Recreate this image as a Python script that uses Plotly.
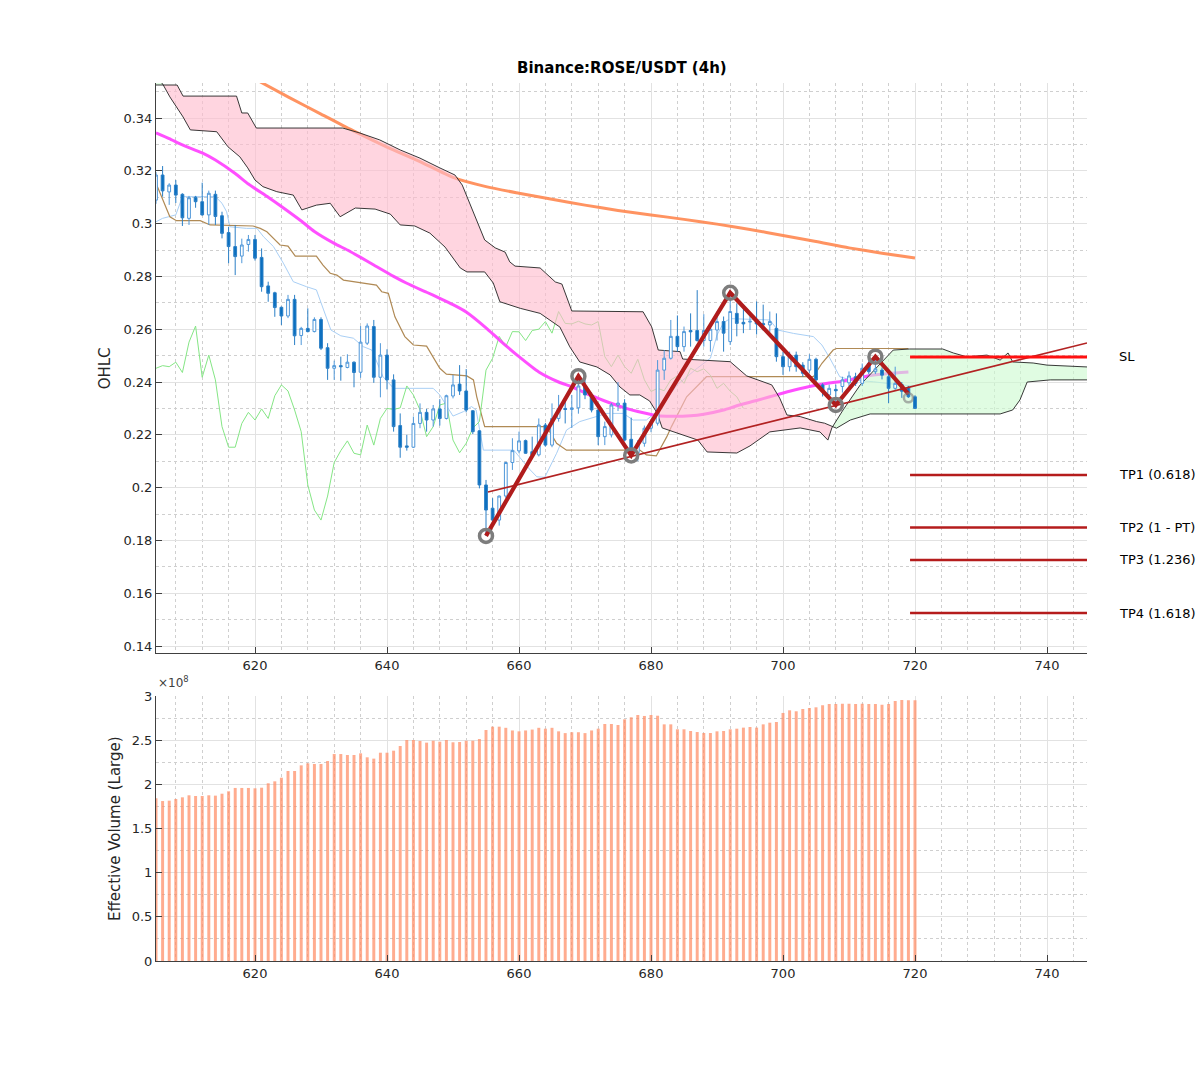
import numpy as np
import plotly.graph_objects as go

# ---------------- data ----------------
x = list(range(605, 721))

open_ = [0.3089,0.3184,0.3120,0.3146,0.3111,0.3020,0.3100,0.3083,0.3033,0.3111,
 0.3030,0.2966,0.2913,0.2877,0.2921,0.2940,0.2872,0.2764,0.2738,0.2683,
 0.2650,0.2713,0.2576,0.2603,0.2591,0.2637,0.2530,0.2452,0.2462,0.2455,
 0.2475,0.2437,0.2547,0.2610,0.2418,0.2502,0.2408,0.2235,0.2158,0.2153,
 0.2243,0.2285,0.2256,0.2298,0.2262,0.2347,0.2392,0.2366,0.2291,0.2215,
 0.2010,0.1922,0.1877,0.1968,0.2095,0.2139,0.2178,0.2136,0.2124,0.2237,
 0.2161,0.2262,0.2300,0.2296,0.2302,0.2385,0.2351,0.2294,0.2193,0.2200,
 0.2313,0.2320,0.2183,0.2132,0.2168,0.2225,0.2244,0.2445,0.2490,0.2573,
 0.2534,0.2595,0.2595,0.2557,0.2557,0.2597,0.2629,0.2553,0.2660,0.2626,
 0.2627,0.2633,0.2622,0.2616,0.2603,0.2496,0.2458,0.2502,0.2464,0.2445,
 0.2486,0.2389,0.2351,0.2372,0.2383,0.2397,0.2420,0.2395,0.2471,0.2439,
 0.2445,0.2420,0.2376,0.2390,0.2380,0.2344]

high_ = [0.3195,0.3218,0.3153,0.3165,0.3115,0.3105,0.3105,0.3155,0.3125,0.3125,
 0.3045,0.2988,0.2995,0.2943,0.2957,0.2957,0.2906,0.2780,0.2742,0.2686,
 0.2730,0.2730,0.2609,0.2679,0.2645,0.2645,0.2547,0.2481,0.2496,0.2505,
 0.2478,0.2612,0.2622,0.2635,0.2547,0.2524,0.2429,0.2281,0.2200,0.2269,
 0.2319,0.2298,0.2313,0.2335,0.2352,0.2427,0.2464,0.2449,0.2294,0.2218,
 0.2029,0.1960,0.1970,0.2098,0.2187,0.2212,0.2182,0.2193,0.2262,0.2245,
 0.2319,0.2351,0.2325,0.2351,0.2422,0.2415,0.2360,0.2305,0.2250,0.2320,
 0.2400,0.2335,0.2265,0.2180,0.2235,0.2260,0.2483,0.2521,0.2635,0.2652,
 0.2610,0.2660,0.2748,0.2657,0.2612,0.2667,0.2648,0.2738,0.2698,0.2692,
 0.2660,0.2705,0.2693,0.2667,0.2660,0.2515,0.2515,0.2515,0.2475,0.2505,
 0.2492,0.2395,0.2390,0.2390,0.2420,0.2440,0.2435,0.2470,0.2485,0.2496,
 0.2455,0.2450,0.2458,0.2400,0.2385,0.2350]

low_ = [0.3075,0.3102,0.3071,0.3078,0.2991,0.2995,0.3060,0.3030,0.2995,0.2995,
 0.2944,0.2850,0.2805,0.2850,0.2894,0.2860,0.2742,0.2704,0.2647,0.2616,
 0.2642,0.2540,0.2540,0.2588,0.2588,0.2521,0.2408,0.2408,0.2405,0.2452,
 0.2380,0.2416,0.2540,0.2397,0.2342,0.2372,0.2212,0.2113,0.2140,0.2150,
 0.2225,0.2212,0.2231,0.2235,0.2258,0.2338,0.2351,0.2285,0.2203,0.1997,
 0.1817,0.1865,0.1856,0.1960,0.2067,0.2130,0.2128,0.2120,0.2118,0.2155,
 0.2153,0.2250,0.2243,0.2226,0.2280,0.2335,0.2285,0.2161,0.2161,0.2190,
 0.2290,0.2175,0.2122,0.2100,0.2155,0.2210,0.2235,0.2408,0.2485,0.2515,
 0.2515,0.2534,0.2553,0.2534,0.2515,0.2557,0.2515,0.2540,0.2573,0.2585,
 0.2597,0.2580,0.2595,0.2590,0.2477,0.2427,0.2440,0.2439,0.2420,0.2435,
 0.2395,0.2345,0.2335,0.2313,0.2360,0.2385,0.2385,0.2385,0.2430,0.2430,
 0.2410,0.2320,0.2370,0.2340,0.2340,0.2300]

close_ = [0.3184,0.3124,0.3146,0.3108,0.3022,0.3098,0.3083,0.3033,0.3115,0.3027,
 0.2963,0.2913,0.2875,0.2919,0.2940,0.2869,0.2761,0.2736,0.2682,0.2650,
 0.2713,0.2575,0.2603,0.2591,0.2637,0.2528,0.2452,0.2462,0.2458,0.2475,
 0.2436,0.2551,0.2612,0.2418,0.2502,0.2408,0.2231,0.2153,0.2153,0.2243,
 0.2285,0.2256,0.2298,0.2262,0.2348,0.2389,0.2366,0.2294,0.2212,0.2010,
 0.1915,0.1877,0.1968,0.2095,0.2140,0.2177,0.2130,0.2124,0.2237,0.2161,
 0.2262,0.2300,0.2296,0.2302,0.2385,0.2351,0.2294,0.2193,0.2231,0.2313,
 0.2320,0.2180,0.2132,0.2168,0.2225,0.2250,0.2445,0.2490,0.2573,0.2534,
 0.2591,0.2590,0.2557,0.2595,0.2600,0.2629,0.2585,0.2667,0.2622,0.2620,
 0.2630,0.2620,0.2616,0.2629,0.2496,0.2458,0.2502,0.2458,0.2433,0.2486,
 0.2408,0.2364,0.2376,0.2367,0.2408,0.2423,0.2395,0.2452,0.2439,0.2450,
 0.2426,0.2376,0.2395,0.2365,0.2344,0.2300]

volume = [1.842,1.811,1.815,1.834,1.853,1.876,1.868,1.868,1.876,1.872,
 1.894,1.921,1.959,1.959,1.959,1.955,1.962,2.012,2.034,2.075,
 2.151,2.151,2.215,2.238,2.230,2.230,2.264,2.343,2.343,2.332,
 2.332,2.351,2.306,2.291,2.358,2.358,2.381,2.434,2.502,2.502,
 2.491,2.472,2.494,2.483,2.502,2.476,2.479,2.494,2.494,2.513,
 2.615,2.653,2.653,2.640,2.610,2.600,2.610,2.620,2.640,2.630,
 2.640,2.600,2.580,2.590,2.590,2.580,2.610,2.630,2.683,2.683,
 2.672,2.736,2.759,2.785,2.774,2.785,2.777,2.679,2.679,2.623,
 2.623,2.604,2.592,2.581,2.581,2.600,2.604,2.623,2.630,2.642,
 2.649,2.642,2.679,2.698,2.706,2.808,2.838,2.827,2.853,2.864,
 2.872,2.895,2.910,2.910,2.913,2.913,2.910,2.913,2.910,2.910,
 2.902,2.910,2.943,2.955,2.951,2.951]
volume = [v * 1e8 for v in volume]

tenkan_x = [605, 606, 608, 609, 614, 615, 615.7, 616.2, 618.7, 620.3, 621.3, 622.8, 624.3, 625.8, 627.8,
            629.3, 630.4, 631.5, 633, 634.9, 636.4, 637.7, 639.4, 641, 647, 648, 650, 651.6, 652.8, 653.5,
            654.6, 659.2, 661.7, 662.7, 663.9, 665.7, 667.2, 669.2, 673.3, 675.8, 677.3, 679.3, 681, 684, 687,
            689, 690, 691, 692, 698, 699.2, 701.6, 704.6, 705.9, 707.1, 708.6, 710.2, 713.7, 717.7, 720]
tenkan_y = [0.3007, 0.3020, 0.3033, 0.3102, 0.3102, 0.3077, 0.3045, 0.2988, 0.2982, 0.2982, 0.2950, 0.2913,
            0.2850, 0.2780, 0.2761, 0.2749, 0.2673, 0.2597, 0.2575, 0.2566, 0.2534, 0.2521, 0.2420, 0.2376,
            0.2376, 0.2351, 0.2271, 0.2288, 0.2307, 0.2294, 0.2142, 0.2142, 0.2067, 0.2041, 0.2039, 0.2130,
            0.2218, 0.2250, 0.2281, 0.2281, 0.2256, 0.2256, 0.2290, 0.2390, 0.2452, 0.2490, 0.2578, 0.2625,
            0.2640, 0.2635, 0.2597, 0.2584, 0.2572, 0.2540, 0.2490, 0.2420, 0.2408, 0.2401, 0.2389, 0.2385]

kijun_x = [605, 606.1, 607.1, 608.1, 611.7, 613.2, 619.7, 620.8, 621.8, 623.8, 625, 626.1, 629.3, 630.3,
           631.4, 632.4, 633.4, 638.4, 639.2, 640.2, 641.2, 642.7, 644, 646, 648, 649, 652.1, 653.1, 653.6,
           654.8, 664.2, 665.7, 667.2, 678.3, 679.3, 680.8, 682.4, 683.1, 685.4, 688.4, 704.6, 705.9, 707.6,
           708.1, 719]
kijun_y = [0.3153, 0.3089, 0.3026, 0.3011, 0.3011, 0.2995, 0.2991, 0.2982, 0.2969, 0.2919, 0.2915, 0.2877,
           0.2877, 0.2843, 0.2812, 0.2805, 0.2786, 0.2767, 0.2742, 0.2736, 0.2647, 0.2572, 0.2540, 0.2536,
           0.2452, 0.2430, 0.2423, 0.2408, 0.2344, 0.2231, 0.2231, 0.2168, 0.2142, 0.2142, 0.2124, 0.2120,
           0.2193, 0.2231, 0.2344, 0.2420, 0.2420, 0.2471, 0.2521, 0.2527, 0.2527]

spanA_x = [605, 606.1, 607.1, 609.1, 610.2, 614.2, 615.9, 617.7, 618.9, 620.0, 621.2, 623.3, 625.8, 627.1,
           629.3, 631.4, 632.9, 635.2, 638.2, 640.5, 642.0, 644.2, 646.5, 648.8, 651.1, 652.1, 654.8, 656.1,
           657.1, 660.2, 663.2, 664.2, 666.2, 667.7, 669.2, 671.8, 673.8, 675.3, 676.8, 678.3, 679.8, 680.9,
           681.7, 687.1, 688.5, 693.0, 695.0, 698.0, 702.6, 705.6, 706.8, 707.4, 709.1, 711.7, 716.7, 719.2,
           724.2, 725.8, 727.9, 730.9, 732.9, 734.1, 734.8, 737.9, 740.0, 746.1]
spanA_y = [0.3563, 0.3525, 0.3480, 0.3404, 0.3355, 0.3348, 0.3291, 0.3253, 0.3211, 0.3165, 0.3140, 0.3121,
           0.3108, 0.3052, 0.3070, 0.3077, 0.3026, 0.3059, 0.3055, 0.3036, 0.2995, 0.2991, 0.2964, 0.2911,
           0.2832, 0.2817, 0.2817, 0.2775, 0.2704, 0.2679, 0.2660, 0.2642, 0.2608, 0.2533, 0.2476, 0.2457,
           0.2427, 0.2381, 0.2351, 0.2351, 0.2328, 0.2283, 0.2226, 0.2180, 0.2135, 0.2131, 0.2158, 0.2211,
           0.2226, 0.2211, 0.2180, 0.2226, 0.2294, 0.2389, 0.2521, 0.2525, 0.2525, 0.2510, 0.2495, 0.2502,
           0.2483, 0.2510, 0.2476, 0.2472, 0.2464, 0.2457]

spanB_x = [605, 608.2, 609.1, 617.2, 618.0, 618.9, 620.2, 633.3, 635.9, 638.9, 642.0, 645.0, 648.0, 650.3,
           651.4, 652.6, 653.8, 654.8, 656.4, 657.9, 658.6, 659.4, 663.2, 664.4, 665.5, 666.5, 668.0, 678.8,
           680.1, 681.1, 684.4, 684.8, 692.0, 694.5, 698.3, 699.5, 700.6, 702.6, 705.1, 706.3, 708.1, 710.2,
           713.2, 732.9, 734.8, 735.9, 737.0, 740.5, 746.1]
spanB_y = [0.3525, 0.3525, 0.3483, 0.3483, 0.3419, 0.3419, 0.3362, 0.3362, 0.3343, 0.3317, 0.3279, 0.3248,
           0.3211, 0.3184, 0.3146, 0.3070, 0.2995, 0.2938, 0.2908, 0.2892, 0.2855, 0.2839, 0.2832, 0.2805,
           0.2779, 0.2771, 0.2669, 0.2666, 0.2609, 0.2521, 0.2515, 0.2487, 0.2477, 0.2423, 0.2389, 0.2339,
           0.2275, 0.2269, 0.2250, 0.2244, 0.2225, 0.2256, 0.2279, 0.2279, 0.2294, 0.2332, 0.2400, 0.2408,
           0.2408]

ma_x = [605, 607, 609, 612, 614, 617, 619, 622, 624, 627, 629, 632, 634, 636, 638, 641, 643, 646, 648,
        650, 652, 655, 657, 660, 663, 666, 668, 671, 673, 676, 678, 681, 683, 686, 688, 691, 693, 696, 698,
        701, 704, 707, 709, 711, 713, 716, 719]
ma_y = [0.3344, 0.3322, 0.3298, 0.3268, 0.3241, 0.3190, 0.3150, 0.3100, 0.3065, 0.3010, 0.2970, 0.2925,
        0.2900, 0.2872, 0.2843, 0.2800, 0.2774, 0.2740, 0.2717, 0.2693, 0.2665, 0.2605, 0.2560, 0.2496,
        0.2438, 0.2400, 0.2382, 0.2348, 0.2328, 0.2302, 0.2288, 0.2272, 0.2270, 0.2272, 0.2278, 0.2294,
        0.2310, 0.2330, 0.2344, 0.2365, 0.2383, 0.2396, 0.2403, 0.2413, 0.2424, 0.2432, 0.2438]

long_x = [620.2, 625, 630, 635, 640, 645, 650, 655, 660, 665, 670, 675, 680, 685, 690, 695, 700, 705, 710,
          715, 720]
long_y = [0.3545, 0.3480, 0.3415, 0.3350, 0.3290, 0.3235, 0.3175, 0.3140, 0.3115, 0.3092, 0.3070, 0.3050,
          0.3033, 0.3016, 0.2998, 0.2978, 0.2955, 0.2932, 0.2908, 0.2888, 0.2870]

zz_x = [655, 669, 677, 692, 708, 714, 719]
zz_y = [0.1817, 0.2422, 0.2122, 0.2738, 0.2313, 0.2496, 0.2355]

trend_x = [655.3, 746.06]
trend_y = [0.1983, 0.2548]

level_x = [719.25, 746.06]
sl_level = 0.2495
tp_levels = [0.2048, 0.1849, 0.1726, 0.1525]
tp_labels = ["TP1 (0.618)", "TP2 (1 - PT)", "TP3 (1.236)", "TP4 (1.618)"]

xtick_vals = [620, 640, 660, 680, 700, 720, 740]
ytick_vals = [0.14, 0.16, 0.18, 0.20, 0.22, 0.24, 0.26, 0.28, 0.30, 0.32, 0.34]
ytick_text = ["0.14", "0.16", "0.18", "0.2", "0.22", "0.24", "0.26", "0.28", "0.3", "0.32", "0.34"]
vtick_vals = [0, 0.5e8, 1e8, 1.5e8, 2e8, 2.5e8, 3e8]
vtick_text = ["0", "0.5", "1", "1.5", "2", "2.5", "3"]

# ---------------- figure ----------------
FONT = "DejaVu Sans"
YRANGE = [0.13735, 0.35326]
fig = go.Figure()

# indicator lines (drawn beneath the cloud) -- base subplot x/y
fig.add_trace(go.Scatter(x=tenkan_x, y=tenkan_y, mode="lines", line=dict(color="#a9cff5", width=1)))
fig.add_trace(go.Scatter(x=kijun_x, y=kijun_y, mode="lines", line=dict(color="#b08a55", width=1.2)))
chik_x = [v - 26 for v in x[26:]]
chik_y = close_[26:]
fig.add_trace(go.Scatter(x=chik_x, y=chik_y, mode="lines", line=dict(color="#85e685", width=1)))
fig.add_trace(go.Scatter(x=ma_x, y=ma_y, mode="lines", line=dict(color="rgba(255,60,255,0.9)", width=3,
                                                                   shape="spline", smoothing=0.6)))
fig.add_trace(go.Scatter(x=long_x, y=long_y, mode="lines", line=dict(color="rgba(255,135,80,0.9)", width=3,
                                                                       shape="spline", smoothing=0.6)))

# cloud fill
xa, ya = np.array(spanA_x), np.array(spanA_y)
xb, yb = np.array(spanB_x), np.array(spanB_y)
xs = np.union1d(xa, xb)
a = np.interp(xs, xa, ya)
b = np.interp(xs, xb, yb)
px_, pa, pb = [xs[0]], [a[0]], [b[0]]
for i in range(len(xs) - 1):
    d0, d1 = a[i] - b[i], a[i + 1] - b[i + 1]
    if d0 * d1 < 0:
        t = d0 / (d0 - d1)
        xc = xs[i] + t * (xs[i + 1] - xs[i])
        yc = a[i] + t * (a[i + 1] - a[i])
        px_.append(xc); pa.append(yc); pb.append(yc)
    px_.append(xs[i + 1]); pa.append(a[i + 1]); pb.append(b[i + 1])
px_, pa, pb = np.array(px_), np.array(pa), np.array(pb)
upper = np.maximum(pa, pb)
fig.add_trace(go.Scatter(x=np.concatenate([px_, px_[::-1]]), y=np.concatenate([upper, pa[::-1]]),
                         fill="toself", fillcolor="rgba(255,188,205,0.62)", mode="lines",
                         line=dict(width=0), hoverinfo="skip"))
fig.add_trace(go.Scatter(x=np.concatenate([px_, px_[::-1]]), y=np.concatenate([upper, pb[::-1]]),
                         fill="toself", fillcolor="rgba(205,250,208,0.62)", mode="lines",
                         line=dict(width=0), hoverinfo="skip"))
fig.add_trace(go.Scatter(x=spanA_x, y=spanA_y, mode="lines", line=dict(color="#222222", width=0.9)))
fig.add_trace(go.Scatter(x=spanB_x, y=spanB_y, mode="lines", line=dict(color="#222222", width=0.9)))

# ---- overlay subplot (x / y3) drawn above the cloud ----
fig.add_trace(go.Candlestick(
    x=x, open=open_, high=high_, low=low_, close=close_, whiskerwidth=0,
    increasing=dict(line=dict(color="#4f97d9", width=1), fillcolor="white"),
    decreasing=dict(line=dict(color="#2a7fc6", width=1), fillcolor="#0b6fbf"),
    xaxis="x", yaxis="y3"))

fig.add_trace(go.Scatter(x=trend_x, y=trend_y, mode="lines", line=dict(color="#b22222", width=1.5),
                         xaxis="x", yaxis="y3"))
fig.add_trace(go.Scatter(x=zz_x, y=zz_y, mode="lines", line=dict(color="#b01c1c", width=4.2),
                         xaxis="x", yaxis="y3"))
fig.add_trace(go.Scatter(x=zz_x[:-1], y=zz_y[:-1], mode="markers", xaxis="x", yaxis="y3",
                         marker=dict(symbol="circle-open", size=13, color="#7d7d7d",
                                     line=dict(width=3.5, color="#7d7d7d"))))
fig.add_trace(go.Scatter(x=zz_x[-1:], y=[zz_y[-1] - 0.0015], mode="markers", opacity=0.6,
                         xaxis="x", yaxis="y3",
                         marker=dict(symbol="circle-open", size=9, color="#7d7d7d",
                                     line=dict(width=2.5, color="#7d7d7d"))))

fig.add_trace(go.Scatter(x=level_x, y=[sl_level, sl_level], mode="lines",
                         line=dict(color="#ff1010", width=3), xaxis="x", yaxis="y3"))
for lv in tp_levels:
    fig.add_trace(go.Scatter(x=level_x, y=[lv, lv], mode="lines", line=dict(color="#b51c1c", width=2.6),
                             xaxis="x", yaxis="y3"))

# volume
fig.add_trace(go.Bar(x=x, y=volume, width=0.45, marker=dict(color="rgba(255,140,100,0.72)",
                     line=dict(width=0)), xaxis="x2", yaxis="y2"))

# ---------------- layout ----------------
grid_major = "#e2e2e2"
grid_minor = "#cfcfcf"
axis_col = "#404040"
common_x = dict(range=[605, 746.06], tickmode="array", tickvals=xtick_vals,
                showgrid=True, gridcolor=grid_major, gridwidth=1, zeroline=False,
                showline=True, linecolor=axis_col, linewidth=1, ticks="inside", ticklen=6,
                tickcolor=axis_col, tickfont=dict(family=FONT, size=13, color="#262626"),
                minor=dict(tickmode="linear", tick0=0, dtick=4, showgrid=True, gridcolor=grid_minor,
                           griddash="dot", gridwidth=1, ticklen=0),
                rangeslider=dict(visible=False), fixedrange=True)

fig.update_layout(
    width=1200, height=1080,
    margin=dict(l=156, r=113, t=83, b=119),
    paper_bgcolor="white", plot_bgcolor="white",
    showlegend=False, boxgap=0.4,
    font=dict(family=FONT, size=13, color="#262626"),
    xaxis=dict(domain=[0, 1], anchor="y", **common_x),
    xaxis2=dict(domain=[0, 1], anchor="y2", **common_x),
    yaxis=dict(domain=[0.3508, 1.0], range=YRANGE, tickmode="array",
               tickvals=ytick_vals, ticktext=ytick_text, showgrid=True, gridcolor=grid_major,
               zeroline=False, showline=True, linecolor=axis_col, linewidth=1, ticks="inside",
               ticklen=6, tickcolor=axis_col, tickfont=dict(family=FONT, size=13, color="#262626"),
               minor=dict(tickmode="linear", tick0=0, dtick=0.01, showgrid=True, gridcolor=grid_minor,
                          griddash="dot", gridwidth=1, ticklen=0)),
    yaxis3=dict(overlaying="y", anchor="x", range=YRANGE, showgrid=False, zeroline=False,
                showline=False, showticklabels=False, ticks="", fixedrange=True),
    yaxis2=dict(domain=[0, 0.30182], range=[0, 3e8], tickmode="array", tickvals=vtick_vals,
                ticktext=vtick_text, showgrid=True, gridcolor=grid_major, zeroline=False,
                showline=True, linecolor=axis_col, linewidth=1, ticks="inside", ticklen=6,
                tickcolor=axis_col, tickfont=dict(family=FONT, size=13, color="#262626"),
                minor=dict(tickmode="linear", tick0=0, dtick=0.25e8, showgrid=True,
                           gridcolor=grid_minor, griddash="dot", gridwidth=1, ticklen=0)),
)

ann = []
ann.append(dict(text="<b>Binance:ROSE/USDT (4h)</b>", xref="paper", yref="paper", x=0.5, y=1.0171,
                xanchor="center", yanchor="middle", showarrow=False,
                font=dict(family=FONT, size=15, color="black")))
ann.append(dict(text="OHLC", xref="paper", yref="paper", x=-0.0548, y=0.675, textangle=-90,
                xanchor="center", yanchor="middle", showarrow=False,
                font=dict(family=FONT, size=15, color="#262626")))
ann.append(dict(text="Effective Volume (Large)", xref="paper", yref="paper", x=-0.0440, y=0.1503,
                textangle=-90, xanchor="center", yanchor="middle", showarrow=False,
                font=dict(family=FONT, size=15, color="#262626")))
ann.append(dict(text="×10<sup>8</sup>", xref="paper", yref="paper", x=0.0, y=0.3060,
                xanchor="left", yanchor="bottom", showarrow=False,
                font=dict(family=FONT, size=12, color="#404040")))
LABEL_X = (1117 - 156) / 931.0
ann.append(dict(text="SL", xref="paper", yref="y", x=LABEL_X, y=sl_level, xanchor="left", yanchor="middle",
                showarrow=False, font=dict(family=FONT, size=13, color="black")))
for lv, lab in zip(tp_levels, tp_labels):
    ann.append(dict(text=lab, xref="paper", yref="y", x=LABEL_X, y=lv, xanchor="left", yanchor="middle",
                    showarrow=False, font=dict(family=FONT, size=13, color="black")))
fig.update_layout(annotations=ann)

fig.write_html("out.html")
